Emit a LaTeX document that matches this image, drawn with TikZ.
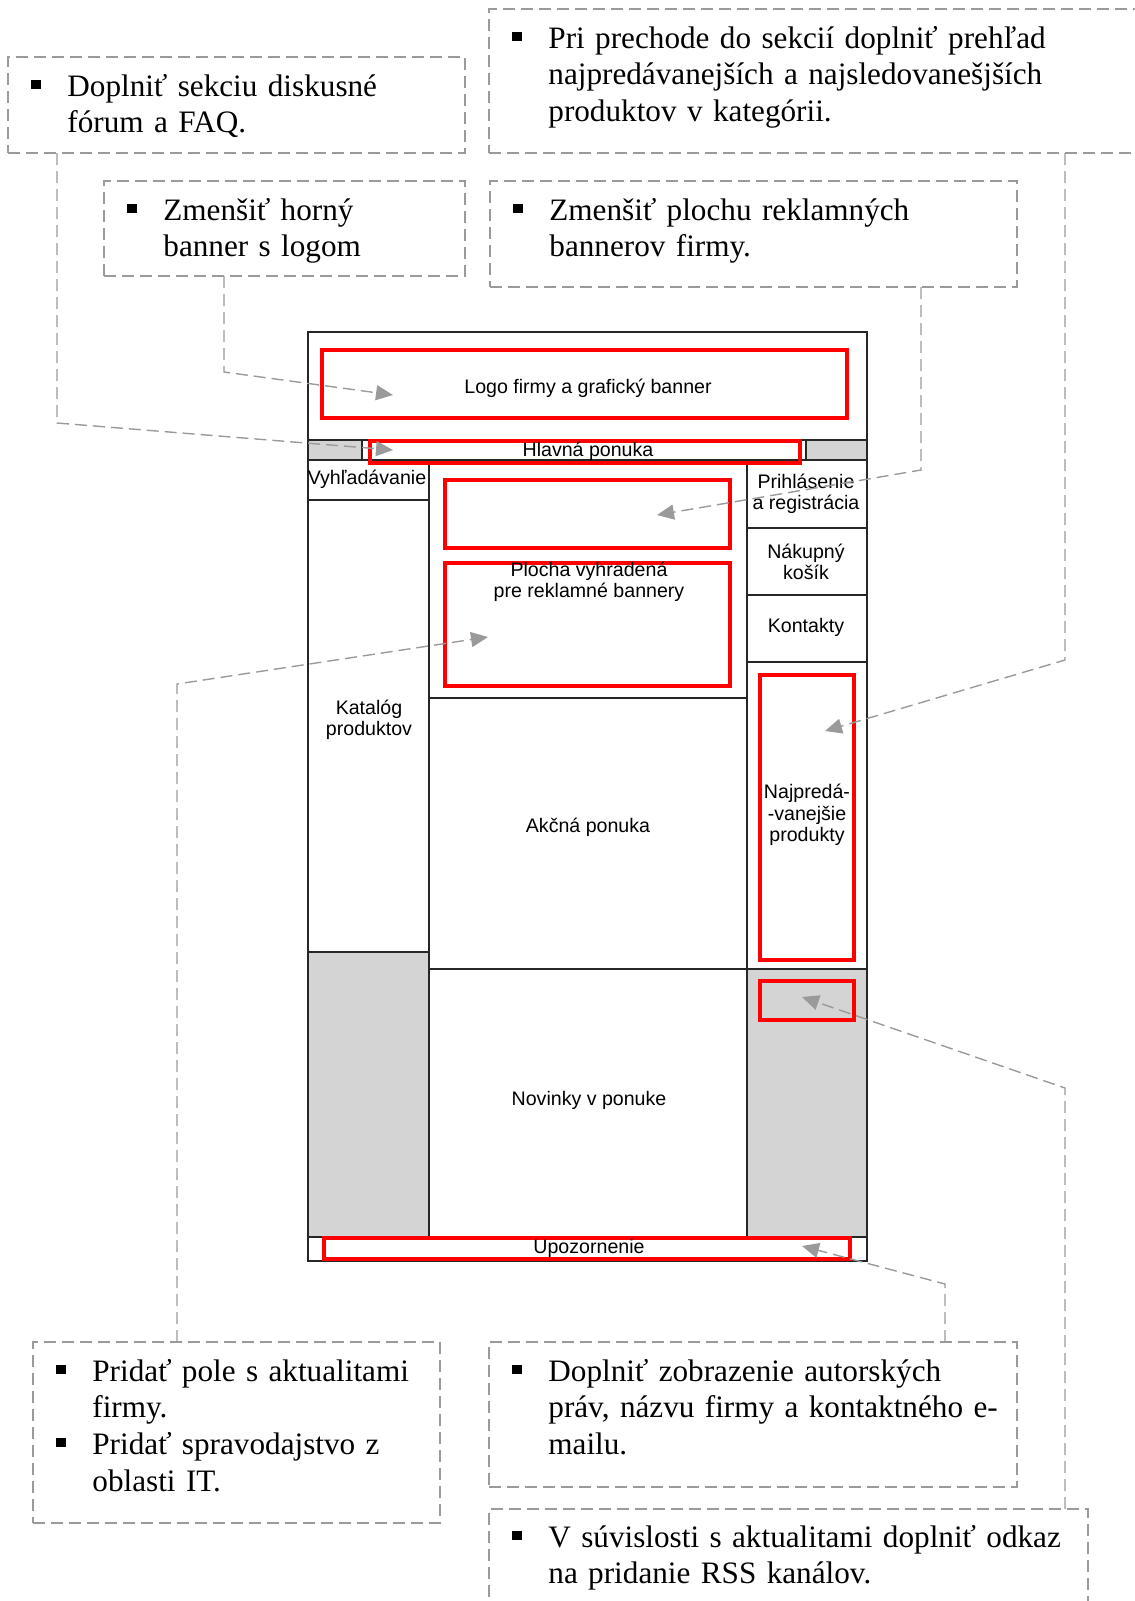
\documentclass[tikz,border=0pt]{standalone}
\usepackage{fontspec}
\setmainfont{Liberation Serif}
\newfontfamily\wffont{Liberation Sans}
\usepackage{tikz}
\usetikzlibrary{arrows.meta, positioning}
\definecolor{notegray}{HTML}{9A9A9A}
\definecolor{panelgray}{HTML}{D4D4D4}
\tikzstyle{notebox} = [rectangle, draw=notegray, dash pattern=on 6pt off 3pt, line width=0.7pt, inner sep=0pt, outer sep=0pt, anchor=north west]
\tikzstyle{notetext} = [anchor=base west, inner sep=0pt, text width=300pt, font=\fontsize{15.6}{18.35}\selectfont]
\tikzstyle{link} = [color=notegray, dash pattern=on 6pt off 3pt, line width=0.7pt, -{Triangle[length=8.5pt, width=7.5pt]}]
\tikzstyle{wflabel} = [inner sep=0pt, align=center, font=\wffont\fontsize{9.8}{10.8}\selectfont]
\tikzstyle{wfline} = [line width=0.9pt, draw=black!85]
\tikzstyle{redbox} = [draw=red, line width=2pt]
\newcommand{\bul}{\noindent\hangindent=18pt\hangafter=1\makebox[18pt][l]{\rule[3.5pt]{4.7pt}{4.7pt}}}

\begin{document}
\begin{tikzpicture}[x=0.5pt, y=-0.5pt]
                \useasboundingbox (0,0) rectangle (1135,1601);
                \clip (0,0) rectangle (1135,1601);
                % note boxes
                \node[notebox, minimum width=228.5pt, minimum height=48pt] (b1) at (8,57) {};
                \node[notebox, minimum width=330.5pt, minimum height=72pt] (b2) at (489,9) {};
                \node[notebox, minimum width=180.5pt, minimum height=47.5pt] (b3) at (104,181) {};
                \node[notebox, minimum width=263.5pt, minimum height=53pt] (b4) at (490,181) {};
                \node[notebox, minimum width=203.5pt, minimum height=90.5pt] (b5) at (33,1342) {};
                \node[notebox, minimum width=264pt, minimum height=72.5pt] (b6) at (489,1342) {};
                \node[notebox, minimum width=299.5pt, minimum height=56pt] (b7) at (489,1509) {};
                \node[notetext] (t1) at ([shift={(23,39)}]b1.north west) {\bul Doplniť sekciu diskusné\newline fórum a FAQ.\par};
                \node[notetext] (t2) at ([shift={(23,39)}]b2.north west) {\bul Pri prechode do sekcií doplniť prehľad\newline najpredávanejších a najsledovanešjších\newline produktov v kategórii.\par};
                \node[notetext] (t3) at ([shift={(23,39)}]b3.north west) {\bul Zmenšiť horný\newline banner s logom\par};
                \node[notetext] (t4) at ([shift={(23,39)}]b4.north west) {\bul Zmenšiť plochu reklamných\newline bannerov firmy.\par};
                \node[notetext] (t5) at ([shift={(23,39)}]b5.north west) {\bul Pridať pole s aktualitami\newline firmy.\par\bul Pridať spravodajstvo z\newline oblasti IT.\par};
                \node[notetext] (t6) at ([shift={(23,39)}]b6.north west) {\bul Doplniť zobrazenie autorských\newline práv, názvu firmy a kontaktného e-\newline mailu.\par};
                \node[notetext] (t7) at ([shift={(23,38)}]b7.north west) {\bul V súvislosti s aktualitami doplniť odkaz\newline na pridanie RSS kanálov.\par};
                % page layout
                \fill[panelgray] (308,440) rectangle (362,460);
                \fill[panelgray] (806,440) rectangle (867,460);
                \fill[panelgray] (308,952) rectangle (429,1237);
                \fill[panelgray] (747,970) rectangle (867,1237);
                \draw[wfline] (308,332) rectangle (867,1261);
                \draw[wfline] (308,440) -- (867,440);
                \draw[wfline] (308,460) -- (867,460);
                \draw[wfline] (362,440) -- (362,460);
                \draw[wfline] (806,440) -- (806,460);
                \draw[wfline] (429,460) -- (429,1237);
                \draw[wfline] (747,460) -- (747,1237);
                \draw[wfline] (308,500) -- (429,500);
                \draw[wfline] (308,952) -- (429,952);
                \draw[wfline] (429,698) -- (747,698);
                \draw[wfline] (429,969) -- (867,969);
                \draw[wfline] (747,528) -- (867,528);
                \draw[wfline] (747,595) -- (867,595);
                \draw[wfline] (747,662) -- (867,662);
                \draw[wfline] (308,1237) -- (867,1237);
                \draw[redbox] (322,350) rectangle (847,418);
                \draw[redbox] (370,441) rectangle (800,463);
                \draw[redbox] (445,480) rectangle (730,548);
                \draw[redbox] (445,563) rectangle (730,686);
                \draw[redbox] (760,675) rectangle (854,960);
                \draw[redbox] (760,981) rectangle (854,1020);
                \draw[redbox] (324,1238) rectangle (850,1259);
                \node[wflabel] (logo) at (588,388) {Logo firmy a grafický banner};
                \node[wflabel] (menu) at (588,451) {Hlavná ponuka};
                \node[wflabel] (search) at (367,479) {Vyhľadávanie};
                \node[wflabel] (login) at (806,494) {Prihlásenie\\a registrácia};
                \node[wflabel] (cart) at (806,562) {Nákupný\\košík};
                \node[wflabel] (contact) at (806,627) {Kontakty};
                \node[wflabel] (ads) at (589,582) {Plocha vyhradená\\pre reklamné bannery};
                \node[wflabel] (catalog) at (369,720) {Katalóg\\produktov};
                \node[wflabel] (promo) at (588,827) {Akčná ponuka};
                \node[wflabel] (bestsell) at (807,815) {Najpredá-\\-vanejšie\\produkty};
                \node[wflabel] (news) at (589,1100) {Novinky v ponuke};
                \node[wflabel] (notice) at (589,1248) {Upozornenie};
                % arrows
                \coordinate (k1) at (57,423);
                \coordinate (k3) at (224,372);
                \coordinate (k4) at (921,470);
                \coordinate (k2) at (1065,660);
                \coordinate (k5) at (177,684);
                \coordinate (k7) at (1065,1088);
                \coordinate (k6) at (945,1284);
                \coordinate (tipmenu) at (393,450);
                \coordinate (tiplogo) at (393,395);
                \coordinate (tipads) at (657,515);
                \coordinate (tipbest) at (825,731);
                \coordinate (tipads2) at (488,637);
                \coordinate (tipsmall) at (802,997);
                \coordinate (tipnotice) at (802,1246);
                \draw[link] (b1.south -| k1) -- (k1) -- (tipmenu);
                \draw[link] (b3.south -| k3) -- (k3) -- (tiplogo);
                \draw[link] (b4.south -| k4) -- (k4) -- (tipads);
                \draw[link] (b2.south -| k2) -- (k2) -- (tipbest);
                \draw[link] (b5.north -| k5) -- (k5) -- (tipads2);
                \draw[link] (b7.north -| k7) -- (k7) -- (tipsmall);
                \draw[link] (b6.north -| k6) -- (k6) -- (tipnotice);
\end{tikzpicture}
\end{document}
